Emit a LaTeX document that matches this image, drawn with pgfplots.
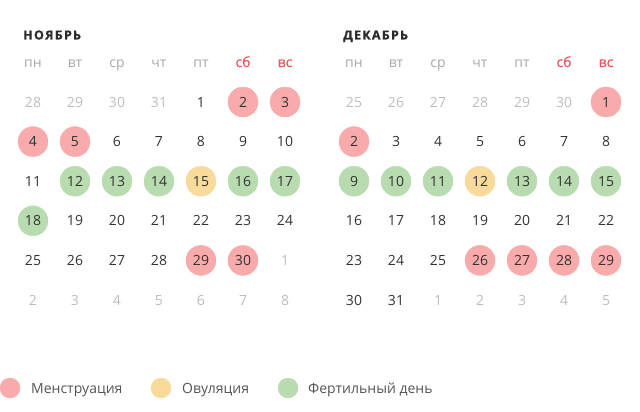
\documentclass[border=0pt]{standalone}
\usepackage{fontspec}
\setmainfont{Open Sans}
\usepackage{pgfplots}
\usepackage{pgfplotstable}
\pgfplotsset{compat=1.18}

\definecolor{menscol}{HTML}{F9AAAA}
\definecolor{ovucol}{HTML}{F8DA9B}
\definecolor{fertcol}{HTML}{B8DCAF}
\definecolor{daydark}{HTML}{333333}
\definecolor{daygray}{HTML}{BDBDBD}
\definecolor{wdgray}{HTML}{A8A8A8}
\definecolor{wdred}{HTML}{E5565E}
\definecolor{titlecol}{HTML}{2B2B2B}
\definecolor{legtext}{HTML}{555555}

% weekday header
\pgfplotstableread{
c w
0 пн
1 вт
2 ср
3 чт
4 пт
}\wdwork
\pgfplotstableread{
c w
5 сб
6 вс
}\wdrest

% november grid: column, row, day
\pgfplotstableread{
c r d
4 0 1
5 0 2
6 0 3
0 1 4
1 1 5
2 1 6
3 1 7
4 1 8
5 1 9
6 1 10
0 2 11
1 2 12
2 2 13
3 2 14
4 2 15
5 2 16
6 2 17
0 3 18
1 3 19
2 3 20
3 3 21
4 3 22
5 3 23
6 3 24
0 4 25
1 4 26
2 4 27
3 4 28
4 4 29
5 4 30
}\novdays
\pgfplotstableread{
c r d
0 0 28
1 0 29
2 0 30
3 0 31
6 4 1
0 5 2
1 5 3
2 5 4
3 5 5
4 5 6
5 5 7
6 5 8
}\novother

% december grid
\pgfplotstableread{
c r d
6 0 1
0 1 2
1 1 3
2 1 4
3 1 5
4 1 6
5 1 7
6 1 8
0 2 9
1 2 10
2 2 11
3 2 12
4 2 13
5 2 14
6 2 15
0 3 16
1 3 17
2 3 18
3 3 19
4 3 20
5 3 21
6 3 22
0 4 23
1 4 24
2 4 25
3 4 26
4 4 27
5 4 28
6 4 29
0 5 30
1 5 31
}\decdays
\pgfplotstableread{
c r d
0 0 25
1 0 26
2 0 27
3 0 28
4 0 29
5 0 30
2 5 1
3 5 2
4 5 3
5 5 4
6 5 5
}\decother

% marked days: p = menstruation, o = ovulation, f = fertile
\pgfplotstableread{
c r k
5 0 p
6 0 p
0 1 p
1 1 p
1 2 f
2 2 f
3 2 f
4 2 o
5 2 f
6 2 f
0 3 f
4 4 p
5 4 p
}\novmarks

\pgfplotstableread{
c r k
6 0 p
0 1 p
0 2 f
1 2 f
2 2 f
3 2 o
4 2 f
5 2 f
6 2 f
3 4 p
4 4 p
5 4 p
6 4 p
}\decmarks

\begin{document}
\begin{tikzpicture}
\begin{axis}[
  scale only axis, width=640pt, height=412pt,
  xmin=0, xmax=640, ymin=0, ymax=412, y dir=reverse,
  hide axis, clip=false,
  every node near coord/.append style={anchor=base, inner sep=0pt},
  circ/.style={scatter, only marks, mark=*, mark size=15pt,
    scatter src=explicit symbolic,
    scatter/classes={p={menscol}, o={ovucol}, f={fertcol}}},
  txt/.style={draw=none, mark=none, nodes near coords,
    point meta=explicit symbolic,
    every node near coord/.append style={text=#1,
      font=\fontsize{14}{16}\selectfont}},
]
% circles
\addplot[circ] table[x expr=\thisrow{c}*42+33, y expr=\thisrow{r}*39.6+102, meta=k] {\novmarks};
\addplot[circ] table[x expr=\thisrow{c}*42+354, y expr=\thisrow{r}*39.6+102, meta=k] {\decmarks};

% day numbers
\addplot[txt=daydark] table[x expr=\thisrow{c}*42+33, y expr=\thisrow{r}*39.6+107, meta=d] {\novdays};
\addplot[txt=daygray] table[x expr=\thisrow{c}*42+33, y expr=\thisrow{r}*39.6+107, meta=d] {\novother};
\addplot[txt=daydark] table[x expr=\thisrow{c}*42+354, y expr=\thisrow{r}*39.6+107, meta=d] {\decdays};
\addplot[txt=daygray] table[x expr=\thisrow{c}*42+354, y expr=\thisrow{r}*39.6+107, meta=d] {\decother};

% weekday names
\addplot[txt=wdgray] table[x expr=\thisrow{c}*42+33, y expr=67, meta=w] {\wdwork};
\addplot[txt=wdred, every node near coord/.append style={font=\fontsize{14}{16}\selectfont\addfontfeatures{FakeBold=0.6}}]
  table[x expr=\thisrow{c}*42+33, y expr=67, meta=w] {\wdrest};
\addplot[txt=wdgray] table[x expr=\thisrow{c}*42+354, y expr=67, meta=w] {\wdwork};
\addplot[txt=wdred, every node near coord/.append style={font=\fontsize{14}{16}\selectfont\addfontfeatures{FakeBold=0.6}}]
  table[x expr=\thisrow{c}*42+354, y expr=67, meta=w] {\wdrest};

% month titles
\addplot[draw=none, mark=none, nodes near coords, point meta=explicit symbolic,
  every node near coord/.append style={anchor=base west, text=titlecol,
    font=\fontsize{12.5}{14}\selectfont\bfseries\addfontfeatures{LetterSpace=10,FakeBold=1}}]
  coordinates {(23,39.5) [НОЯБРЬ] (343,39.5) [ДЕКАБРЬ]};

% legend
\addplot[only marks, mark=*, mark size=10pt, color=menscol] coordinates {(10,388)};
\addplot[only marks, mark=*, mark size=10pt, color=ovucol] coordinates {(161,388)};
\addplot[only marks, mark=*, mark size=10pt, color=fertcol] coordinates {(288,388)};
\addplot[draw=none, mark=none, nodes near coords, point meta=explicit symbolic,
  every node near coord/.append style={anchor=base west, text=legtext,
    font=\fontsize{14}{16}\selectfont}]
  coordinates {(31,393) [Менструация] (182,393) [Овуляция] (308,393) [Фертильный день]};
\end{axis}
\pgfresetboundingbox
\useasboundingbox (0,0) rectangle (640pt,412pt);
\end{tikzpicture}
\end{document}
